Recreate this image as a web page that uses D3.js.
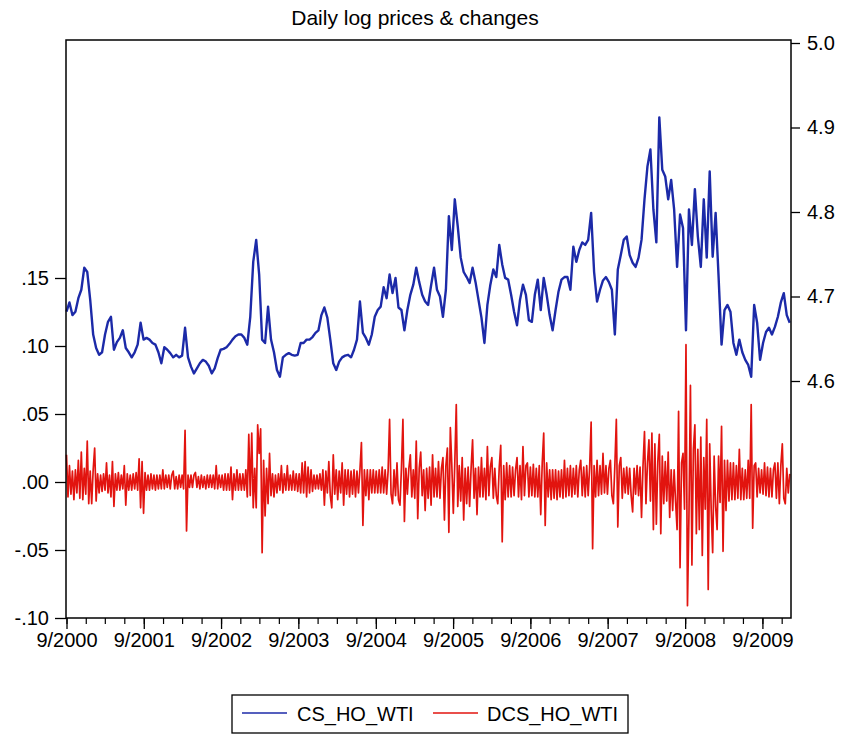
<!DOCTYPE html>
<html>
<head>
<meta charset="utf-8">
<script src="https://cdn.jsdelivr.net/npm/d3@7/dist/d3.min.js"></script>
<style>
  html, body { margin: 0; padding: 0; background: #ffffff; }
  svg { display: block; }
  text { font-family: "Liberation Sans", Arial, Helvetica, sans-serif; fill: #000; }
</style>
</head>
<body>
<svg id="chart" width="842" height="735"></svg>
<script>
// ---------------- DATA ----------------
const chartTitle = "Daily log prices & changes";
const seriesNames = ["CS_HO_WTI", "DCS_HO_WTI"];
const startDate = "2000-09-01";
const endDate = "2010-01-14";
const csStepDays = 14;   // one reading every two weeks
const dcsStepDays = 7;   // one reading every week

// CS_HO_WTI (right axis)
const csValues = [
4.682,4.693,4.678,4.682,4.698,4.708,4.734,4.729,4.696,4.655,
4.639,4.631,4.634,4.655,4.670,4.676,4.637,4.646,4.651,4.660,
4.639,4.634,4.628,4.634,4.643,4.669,4.649,4.651,4.649,4.645,
4.643,4.634,4.621,4.640,4.637,4.633,4.628,4.631,4.628,4.630,
4.663,4.628,4.617,4.609,4.615,4.621,4.625,4.623,4.618,4.609,
4.615,4.627,4.637,4.638,4.640,4.644,4.649,4.653,4.655,4.655,
4.651,4.643,4.676,4.741,4.767,4.726,4.649,4.645,4.688,4.649,
4.634,4.613,4.605,4.628,4.631,4.633,4.631,4.630,4.631,4.645,
4.645,4.649,4.649,4.652,4.657,4.660,4.678,4.687,4.675,4.649,
4.621,4.613,4.623,4.628,4.630,4.631,4.628,4.637,4.649,4.694,
4.657,4.651,4.643,4.655,4.676,4.684,4.688,4.711,4.698,4.726,
4.704,4.722,4.687,4.684,4.660,4.684,4.702,4.714,4.734,4.717,
4.702,4.694,4.690,4.713,4.734,4.708,4.700,4.676,4.708,4.795,
4.755,4.815,4.783,4.746,4.729,4.723,4.716,4.734,4.717,4.696,
4.675,4.645,4.690,4.714,4.732,4.723,4.761,4.738,4.722,4.720,
4.702,4.682,4.666,4.696,4.714,4.702,4.672,4.670,4.702,4.720,
4.684,4.722,4.702,4.678,4.660,4.684,4.706,4.720,4.723,4.723,
4.708,4.759,4.741,4.755,4.764,4.761,4.767,4.799,4.729,4.694,
4.708,4.719,4.723,4.717,4.708,4.655,4.732,4.749,4.767,4.771,
4.749,4.740,4.735,4.746,4.767,4.815,4.854,4.874,4.803,4.764,
4.912,4.850,4.842,4.815,4.838,4.803,4.735,4.797,4.781,4.660,
4.803,4.761,4.827,4.771,4.735,4.815,4.746,4.848,4.747,4.799,
4.723,4.643,4.684,4.690,4.682,4.645,4.631,4.649,4.634,4.625,
4.619,4.605,4.690,4.669,4.625,4.645,4.658,4.663,4.655,4.664,
4.676,4.693,4.704,4.678,4.669
];

// DCS_HO_WTI (left axis)
const dcsValues = [
.020,-.011,.012,-.009,.008,-.013,.009,-.008,.016,-.012,
.022,-.013,.010,-.009,.030,-.016,.008,-.016,.009,.025,
-.014,.006,-.008,.005,-.007,.006,-.006,.014,-.008,.005,
-.011,.015,-.018,.006,-.006,.007,-.006,.005,-.005,.012,
-.017,.006,-.006,.005,-.006,.006,-.005,.007,-.006,.017,
-.019,.015,-.023,.007,-.006,.005,-.006,.006,-.005,.005,
-.006,.005,-.005,.005,-.005,.009,-.005,.005,-.004,.005,
-.005,.005,.008,-.005,.004,-.005,.005,-.004,.005,-.005,
.038,-.036,.005,-.004,.005,-.004,.005,.007,-.004,.004,
-.005,.005,-.004,.004,-.005,.005,-.004,.005,-.004,.005,
-.005,.012,-.005,.005,-.004,.005,-.006,.006,-.006,.006,
-.006,.011,-.013,.006,-.006,.009,-.006,.006,-.006,.006,
-.006,.009,-.011,.035,-.010,.036,-.019,.010,-.019,.042,
.021,.039,-.052,.016,-.025,.010,-.016,.021,-.010,.006,
-.011,.005,-.008,.006,-.006,.012,-.008,.006,-.006,.012,
-.006,.005,-.006,.008,-.006,.006,-.007,.006,-.008,.014,
-.008,.015,-.011,.011,-.008,.009,-.007,.005,-.005,.005,
-.005,.006,-.006,.009,-.017,.008,-.008,.015,-.010,-.019,
.020,-.009,.009,-.013,.008,-.008,.014,-.017,.009,-.009,
.009,-.011,.008,-.009,.009,-.011,.008,-.008,.009,.029,
-.032,.009,-.010,.009,-.013,.009,-.008,.009,-.008,.008,
-.008,.009,-.008,.011,-.008,.009,-.009,.008,.046,-.009,
-.016,.009,-.010,.014,-.013,-.017,.010,.046,-.029,.010,
-.009,.010,.020,-.011,.009,-.012,.030,-.027,.010,.022,
-.010,.009,-.021,.010,-.012,.011,-.017,.020,-.011,.010,
-.011,.015,-.012,.010,.018,-.028,.012,.025,-.037,.040,
.012,-.023,.014,.057,-.018,.012,-.014,.018,-.028,.010,
-.016,.011,-.018,.010,.031,-.012,.010,-.024,.011,-.011,
.018,-.011,.010,-.013,.026,-.010,.011,.018,-.012,.010,
-.010,-.016,.011,.027,-.044,.012,-.013,.014,-.011,.012,
-.011,.011,-.010,.009,.018,-.011,.012,-.013,.026,-.010,
.012,.014,-.011,.011,-.010,.013,-.011,.010,-.011,.012,
-.024,.014,.036,-.032,.014,-.011,.009,-.013,.009,-.012,
.009,-.013,.008,-.011,.009,-.012,.016,-.011,.010,-.010,
.012,-.011,.010,-.009,.012,-.011,.009,.016,-.010,.011,
-.011,.012,-.010,.011,.044,-.049,.012,-.011,.016,-.010,
.012,-.009,.021,-.008,.012,-.009,.010,.016,-.010,-.016,
.012,.046,-.033,.012,.018,-.012,.010,-.008,.011,-.009,
.010,-.010,-.022,.010,-.009,.012,-.010,.011,-.026,.012,
.037,-.016,.014,.031,-.014,.036,-.035,.028,-.031,.015,
.035,-.038,.019,-.016,.015,-.014,.022,-.026,.009,-.021,
.009,-.015,-.035,.052,-.063,.014,.021,-.020,.101,-.091,
-.025,.071,-.061,.024,.042,-.038,.024,-.035,.033,-.054,
.018,-.020,.046,-.079,.028,-.020,-.052,.019,-.018,-.035,
.019,-.015,.041,-.051,.016,-.021,.016,-.014,.014,-.013,
.014,-.013,.012,-.012,.024,-.013,.010,-.013,.009,-.012,
.016,-.012,.057,-.034,.012,.014,-.011,.010,-.008,.009,
-.009,.014,-.010,.011,-.011,.010,-.011,.009,.014,-.012,
.014,-.016,.012,.028,-.012,-.016,.010,-.008,.006
];

// Axis ticks and labels
const leftTicks = [-0.10, -0.05, 0.00, 0.05, 0.10, 0.15];
const leftTickLabels = ["-.10", "-.05", ".00", ".05", ".10", ".15"];
const rightTicks = [4.6, 4.7, 4.8, 4.9, 5.0];
const rightTickLabels = ["4.6", "4.7", "4.8", "4.9", "5.0"];
const xTickLabels = ["9/2000","9/2001","9/2002","9/2003","9/2004","9/2005","9/2006","9/2007","9/2008","9/2009"];

const colors = { cs: "#1c2aa8", dcs: "#e2140f" };

// ---------------- DRAW ----------------
const svg = d3.select("#chart");
const parse = d3.timeParse("%Y-%m-%d");
const t0 = parse(startDate), t1 = parse(endDate);

const plot = { left: 66, right: 791, top: 40, bottom: 618 };

const x = d3.scaleTime().domain([t0, t1]).range([66.5, 791]);
const yL = d3.scaleLinear().domain([-0.10, 0.15]).range([618, 278]);
const yR = d3.scaleLinear().domain([4.6, 5.0]).range([381, 43]);

const csData = csValues.map((v, i) => ({ date: d3.timeDay.offset(t0, i * csStepDays), v }));
const dcsData = dcsValues.map((v, i) => ({ date: d3.timeDay.offset(t0, i * dcsStepDays), v }));

// title
svg.append("text")
  .attr("x", 415).attr("y", 25)
  .attr("text-anchor", "middle")
  .style("font-size", "21px")
  .text(chartTitle);

// series lines
const lineR = d3.line().x(d => x(d.date)).y(d => yR(d.v));
const lineL = d3.line().x(d => x(d.date)).y(d => yL(d.v));

svg.append("path").datum(dcsData)
  .attr("d", lineL).attr("fill", "none")
  .attr("stroke", colors.dcs).attr("stroke-width", 1.7)
  .attr("stroke-linejoin", "round");

svg.append("path").datum(csData)
  .attr("d", lineR).attr("fill", "none")
  .attr("stroke", colors.cs).attr("stroke-width", 2.4)
  .attr("stroke-linejoin", "round");

// frame
svg.append("rect")
  .attr("x", plot.left).attr("y", plot.top)
  .attr("width", plot.right - plot.left).attr("height", plot.bottom - plot.top)
  .attr("fill", "none").attr("stroke", "#000").attr("stroke-width", 1.5);

// left axis
const gL = svg.append("g").attr("transform", `translate(${plot.left},0)`)
  .call(d3.axisLeft(yL).tickValues(leftTicks)
    .tickFormat((d, i) => leftTickLabels[i]).tickSize(11).tickPadding(6));
gL.select(".domain").remove();
gL.selectAll("line").attr("stroke", "#000").attr("stroke-width", 1.3);
gL.selectAll("text").style("font-size", "20px").attr("font-family", null);

// right axis
const gR = svg.append("g").attr("transform", `translate(${plot.right},0)`)
  .call(d3.axisRight(yR).tickValues(rightTicks)
    .tickFormat((d, i) => rightTickLabels[i]).tickSize(9).tickPadding(7));
gR.select(".domain").remove();
gR.selectAll("line").attr("stroke", "#000").attr("stroke-width", 1.3);
gR.selectAll("text").style("font-size", "20px").attr("font-family", null);

// bottom axis: quarterly minor ticks, September major ticks
const quarterTicks = d3.timeMonth.range(t0, t1).filter(d => d.getMonth() % 3 === 2);
const majorTicks = quarterTicks.filter(d => d.getMonth() === 8);
const gB = svg.append("g").attr("transform", `translate(0,${plot.bottom})`);
gB.call(d3.axisBottom(x).tickValues(quarterTicks).tickFormat("").tickSize(6))
  .select(".domain").remove();
gB.selectAll("line").attr("stroke", "#000").attr("stroke-width", 1.2);
const gB2 = svg.append("g").attr("transform", `translate(0,${plot.bottom})`);
gB2.call(d3.axisBottom(x).tickValues(majorTicks)
    .tickFormat((d, i) => xTickLabels[i]).tickSize(11).tickPadding(4))
  .select(".domain").remove();
gB2.selectAll("line").attr("stroke", "#000").attr("stroke-width", 1.3);
gB2.selectAll("text").style("font-size", "20px").attr("font-family", null);

// legend
const lg = svg.append("g");
lg.append("rect").attr("x", 232).attr("y", 695).attr("width", 396).attr("height", 38)
  .attr("fill", "#fff").attr("stroke", "#000").attr("stroke-width", 1.3);
const legendItems = [
  { name: seriesNames[0], color: colors.cs, x1: 242, x2: 287, tx: 297 },
  { name: seriesNames[1], color: colors.dcs, x1: 433, x2: 478, tx: 487 }
];
legendItems.forEach(it => {
  lg.append("line").attr("x1", it.x1).attr("x2", it.x2).attr("y1", 713).attr("y2", 713)
    .attr("stroke", it.color).attr("stroke-width", 1.6);
  lg.append("text").attr("x", it.tx).attr("y", 721).style("font-size", "20px").text(it.name);
});
</script>
</body>
</html>
